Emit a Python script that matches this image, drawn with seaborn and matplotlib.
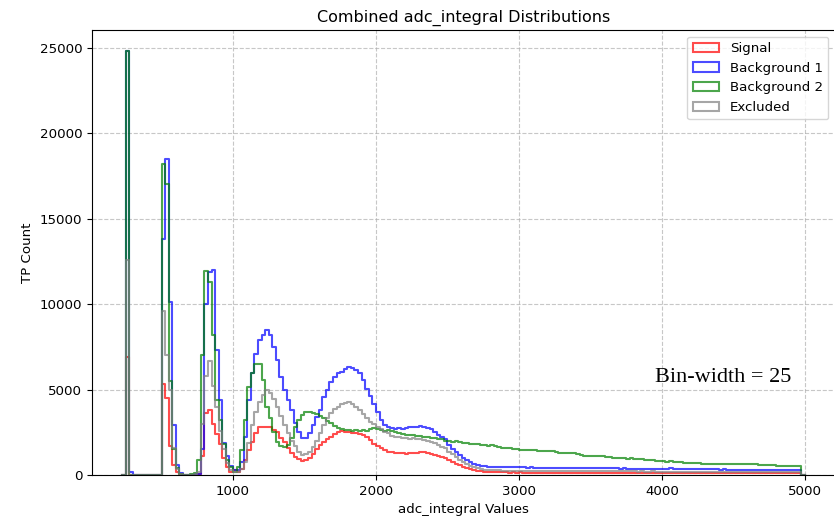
import numpy as np
import pandas as pd
import matplotlib
matplotlib.use("Agg")
import matplotlib.pyplot as plt
from matplotlib.patches import Patch
import seaborn as sns

# ---- data: counts per 25-wide bin, left edges 250, 275, ..., 4950 ----
bin_start = 250
bin_width = 25

signal = [
    6900, 0, 10, 10, 10, 10, 10, 10, 10, 10,
    5300, 4500, 1700, 600, 150, 30, 10, 10, 10, 20,
    60, 1100, 3600, 3800, 3000, 2400, 1800, 1000, 450, 200,
    290, 195, 330, 880, 1460, 1950, 2430, 2780, 2820, 2820,
    2780, 2630, 2490, 2140, 1950, 1560, 1270, 1070, 915, 840,
    876, 975, 1230, 1500, 1750, 1950, 2080, 2240, 2390, 2510,
    2550, 2530, 2510, 2470, 2430, 2390, 2360, 2240, 2040, 1810,
    1690, 1580, 1460, 1360, 1320, 1300, 1270, 1270, 1250, 1290,
    1300, 1270, 1340, 1360, 1300, 1230, 1190, 1110, 1030, 975,
    850, 760, 650, 560, 480, 400, 330, 280, 240, 210,
    190, 175, 165, 160, 155, 150, 150, 145, 150, 145,
    150, 145, 140, 145, 140, 135, 140, 135, 130, 135,
    130, 130, 125, 130, 130, 125, 125, 130, 125, 120,
    125, 120, 125, 120, 120, 125, 120, 115, 120, 120,
    115, 120, 115, 115, 120, 115, 110, 115, 115, 110,
    115, 110, 110, 115, 110, 105, 110, 110, 105, 110,
    105, 105, 110, 105, 100, 105, 105, 100, 105, 100,
    100, 105, 100, 100, 95, 100, 100, 95, 100, 95,
    95, 95, 100, 95, 90, 95, 95, 90, 90,
]

background1 = [
    24800, 180, 20, 15, 15, 15, 15, 15, 15, 20,
    13800, 18500, 10100, 2900, 600, 90, 20, 15, 20, 40,
    80, 1500, 10000, 11900, 12000, 7300, 4400, 1900, 1100, 500,
    290, 290, 780, 2240, 4380, 5940, 7100, 7890, 8180, 8470,
    8180, 7500, 6720, 5740, 4960, 4380, 3800, 3020, 2530, 2140,
    2140, 2430, 2920, 3400, 3800, 4575, 4960, 5450, 5740, 5940,
    6040, 6230, 6330, 6290, 6170, 5940, 5550, 5060, 4610, 4150,
    3700, 3210, 2920, 2820, 2730, 2700, 2730, 2670, 2760, 2780,
    2820, 2820, 2860, 2820, 2730, 2670, 2530, 2340, 2200, 2080,
    1750, 1550, 1350, 1150, 1000, 850, 740, 650, 590, 540,
    510, 490, 470, 460, 455, 450, 455, 450, 445, 445,
    440, 445, 435, 440, 430, 435, 430, 425, 430, 420,
    425, 420, 415, 420, 410, 415, 410, 405, 410, 400,
    405, 400, 395, 400, 390, 395, 385, 390, 380, 385,
    380, 375, 380, 370, 375, 365, 370, 360, 365, 360,
    355, 360, 390, 380, 350, 345, 350, 340, 345, 335,
    340, 335, 330, 335, 325, 330, 320, 325, 320, 315,
    320, 315, 310, 315, 305, 310, 305, 300, 305, 300,
    300, 295, 300, 295, 290, 295, 290, 290, 285,
]

background2 = [
    24800, 0, 15, 15, 15, 15, 15, 15, 15, 20,
    18200, 17000, 5500, 1500, 400, 60, 15, 20, 30, 120,
    900, 7000, 11950, 11300, 8200, 4400, 3200, 1800, 900, 450,
    195, 490, 1460, 3210, 5160, 5940, 6520, 6520, 5550, 3990,
    3310, 2530, 1950, 1690, 1620, 1750, 2140, 2820, 3210, 3500,
    3700, 3700, 3640, 3560, 3450, 3310, 3150, 3020, 2860, 2730,
    2670, 2630, 2630, 2590, 2630, 2590, 2630, 2590, 2670, 2730,
    2670, 2630, 2590, 2630, 2550, 2510, 2430, 2390, 2360, 2340,
    2320, 2300, 2260, 2240, 2200, 2160, 2140, 2120, 2080, 2000,
    1970, 1950, 1970, 1910, 1890, 1850, 1830, 1800, 1790, 1760,
    1740, 1700, 1730, 1680, 1640, 1600, 1580, 1560, 1530, 1500,
    1480, 1460, 1470, 1440, 1450, 1420, 1430, 1400, 1380, 1390,
    1330, 1310, 1300, 1300, 1280, 1260, 1200, 1150, 1140, 1120,
    1110, 1100, 1090, 1100, 1080, 1060, 1000, 980, 970, 970,
    960, 970, 950, 940, 920, 900, 880, 850, 830, 820,
    800, 780, 790, 770, 760, 740, 730, 720, 720, 700,
    680, 660, 650, 640, 630, 630, 620, 620, 630, 640,
    640, 630, 640, 650, 640, 630, 620, 610, 600, 580,
    570, 560, 555, 550, 550, 545, 550, 545, 540,
]

excluded = [
    12600, 0, 10, 10, 10, 10, 10, 10, 10, 10,
    9600, 7000, 5000, 1600, 350, 50, 10, 10, 15, 30,
    150, 3000, 5800, 6700, 5200, 4000, 2600, 1500, 700, 300,
    195, 195, 330, 780, 1850, 2920, 3700, 4280, 4670, 4960,
    4810, 4420, 3990, 3450, 2920, 2430, 2000, 1690, 1360, 1170,
    1210, 1360, 1650, 2000, 2470, 2920, 3310, 3600, 3840, 3990,
    4130, 4240, 4260, 4130, 3950, 3800, 3560, 3310, 3120, 2980,
    2820, 2670, 2530, 2430, 2280, 2240, 2200, 2160, 2140, 2120,
    2140, 2120, 2080, 2040, 2000, 1930, 1850, 1750, 1650, 1560,
    1350, 1200, 1050, 900, 760, 640, 540, 460, 400, 350,
    320, 300, 285, 275, 265, 260, 255, 255, 250, 250,
    250, 250, 245, 245, 240, 240, 240, 235, 235, 230,
    230, 230, 225, 225, 225, 220, 225, 220, 220, 215,
    215, 220, 215, 215, 210, 215, 210, 210, 210, 205,
    210, 205, 205, 200, 205, 200, 200, 205, 200, 200,
    200, 195, 200, 195, 195, 200, 195, 195, 190, 195,
    190, 195, 190, 190, 190, 185, 190, 185, 185, 185,
    185, 180, 185, 180, 180, 185, 180, 180, 175, 180,
    175, 175, 180, 175, 175, 170, 175, 170, 170,
]

labels = ["Signal", "Background 1", "Background 2", "Excluded"]
colors = ["red", "blue", "green", "gray"]
series = [signal, background1, background2, excluded]

plt.rcParams["font.size"] = 9.6

# ---- figure ----
fig = plt.figure(figsize=(8.34, 5.18), dpi=100)
ax = fig.add_axes([92 / 834, 43 / 518, 743 / 834, 445 / 518])

n = len(signal)
# one empty bin on each side so the step outline drops to zero at both ends
lo = bin_start - bin_width
hi = bin_start + bin_width * (n + 1)
centers = lo + bin_width * (np.arange(n + 2) + 0.5)

for lab, col, vals in zip(labels, colors, series):
    w = np.concatenate([[0], np.asarray(vals, float), [0]])
    df = pd.DataFrame({"x": centers, "w": w})
    sns.histplot(data=df, x="x", weights="w", binwidth=bin_width,
                 binrange=(lo, hi), element="step",
                 fill=False, color=col, alpha=0.7, linewidth=1.5, ax=ax)

first_edge = bin_start
last_edge = bin_start + bin_width * n
span = last_edge - first_edge
ax.set_xlim(first_edge - 0.05 * span, last_edge + 0.05 * span)
ax.set_ylim(0, 24800 * 1.05)
ax.set_xticks([1000, 2000, 3000, 4000, 5000])
ax.set_yticks([0, 5000, 10000, 15000, 20000, 25000])

ax.set_title("Combined adc_integral Distributions", fontsize=11.5)
ax.set_xlabel("adc_integral Values", fontsize=9.6)
ax.set_ylabel("TP Count", fontsize=9.6)
ax.grid(True, linestyle="--", alpha=0.7)

handles = [Patch(facecolor="none", edgecolor=c, alpha=0.7, linewidth=1.5) for c in colors]
ax.legend(handles, labels, loc="upper right", fontsize=9.6)

ax.text(0.758, 0.22, "Bin-width = 25", transform=ax.transAxes,
        fontsize=16, family="Liberation Serif", ha="left", va="center")

fig.savefig("out.png", dpi=100)
